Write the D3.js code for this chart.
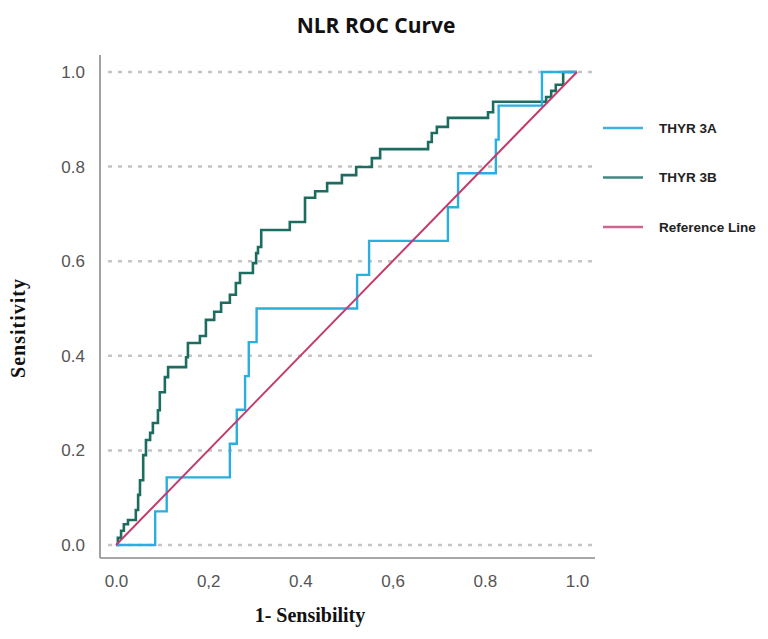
<!DOCTYPE html>
<html>
<head>
<meta charset="utf-8">
<script src="https://cdn.jsdelivr.net/npm/d3@7"></script>
<style>
  html, body { margin: 0; padding: 0; background: #fff; }
  svg { display: block; }
</style>
</head>
<body>
<svg id="chart" width="768" height="639"></svg>
<script>
// ---- data ----
const tickValues = [0, 0.2, 0.4, 0.6, 0.8, 1.0];
const xTickLabels = ["0.0", "0,2", "0.4", "0,6", "0.8", "1.0"];
const yTickLabels = ["0.0", "0.2", "0.4", "0.6", "0.8", "1.0"];

const seriesNames = ["THYR 3A", "THYR 3B", "Reference Line"];

// THYR 3A (staircase corners: step right, then up)
const thyr3aFpr = [0, 0.085, 0.110, 0.247, 0.262, 0.280, 0.288, 0.305, 0.523, 0.549, 0.720, 0.742, 0.824, 0.830, 0.924, 1.0];
const thyr3aTpr = [0, 0.071, 0.143, 0.214, 0.286, 0.357, 0.429, 0.500, 0.571, 0.643, 0.714, 0.786, 0.857, 0.929, 1.000, 1.0];

// THYR 3B
const thyr3bFpr = [0, 0.004, 0.011, 0.017, 0.026, 0.043, 0.048, 0.052, 0.059, 0.065, 0.074, 0.080, 0.091, 0.095, 0.106, 0.113,
  0.152, 0.156, 0.182, 0.195, 0.213, 0.228, 0.247, 0.260, 0.269, 0.297, 0.304, 0.308, 0.315, 0.377, 0.410, 0.432,
  0.458, 0.490, 0.521, 0.555, 0.573, 0.677, 0.685, 0.696, 0.720, 0.807, 0.818, 0.933, 0.944, 0.954, 0.970, 1.0];
const thyr3bTpr = [0, 0.015, 0.030, 0.044, 0.053, 0.074, 0.106, 0.137, 0.190, 0.222, 0.237, 0.258, 0.285, 0.323, 0.355, 0.376,
  0.397, 0.427, 0.442, 0.476, 0.493, 0.512, 0.529, 0.554, 0.575, 0.596, 0.617, 0.630, 0.666, 0.683, 0.734, 0.748,
  0.765, 0.782, 0.799, 0.818, 0.837, 0.852, 0.871, 0.884, 0.903, 0.915, 0.937, 0.947, 0.960, 0.973, 1.000, 1.0];

const referenceFpr = [0, 1];
const referenceTpr = [0, 1];

// ---- styles ----
const colA = "#2aaee0";
const colB = "#1c6c60";
const colRef = "#c23d6d";

const svg = d3.select("#chart");

const x = d3.scaleLinear().domain([0, 1]).range([116, 577]);
const y = d3.scaleLinear().domain([0, 1]).range([545, 72]);

// title
svg.append("text")
  .attr("x", 376).attr("y", 33)
  .attr("text-anchor", "middle")
  .style("font-family", "'Open Sans', sans-serif")
  .style("font-weight", "bold")
  .style("font-size", "21px")
  .attr("fill", "#111")
  .text("NLR ROC Curve");

// gridlines
svg.append("g").selectAll("line").data(tickValues).join("line")
  .attr("x1", 108).attr("x2", 595)
  .attr("y1", d => y(d)).attr("y2", d => y(d))
  .attr("stroke", "#c4c4c4")
  .attr("stroke-width", 2.5)
  .attr("stroke-dasharray", "4,6");

// axes lines
svg.append("line").attr("x1", 100).attr("x2", 100).attr("y1", 55).attr("y2", 558)
  .attr("stroke", "#8a8a8a").attr("stroke-width", 1.6);
svg.append("line").attr("x1", 100).attr("x2", 595).attr("y1", 558).attr("y2", 558)
  .attr("stroke", "#8a8a8a").attr("stroke-width", 1.6);

// x tick labels via axis
const xAxis = d3.axisBottom(x).tickValues(tickValues).tickSize(0)
  .tickFormat((d, i) => xTickLabels[i]);
const gx = svg.append("g").attr("transform", "translate(0,572)").call(xAxis);
gx.select(".domain").remove();
gx.selectAll("text")
  .attr("dy", "0.71em")
  .style("font-family", "'Liberation Sans', Arial, sans-serif")
  .style("font-size", "17px")
  .attr("fill", "#555");

// y tick labels via axis
const yAxis = d3.axisLeft(y).tickValues(tickValues).tickSize(0)
  .tickFormat((d, i) => yTickLabels[i]);
const gy = svg.append("g").attr("transform", "translate(85,0)").call(yAxis);
gy.select(".domain").remove();
gy.selectAll("text")
  .attr("x", 0)
  .style("font-family", "'Liberation Sans', Arial, sans-serif")
  .style("font-size", "17px")
  .attr("fill", "#555");

// axis titles
svg.append("text")
  .attr("x", 310).attr("y", 622)
  .attr("text-anchor", "middle")
  .style("font-family", "'Liberation Serif', 'Times New Roman', serif")
  .style("font-weight", "bold")
  .style("font-size", "20px")
  .attr("fill", "#111")
  .text("1- Sensibility");

svg.append("text")
  .attr("transform", "translate(25,328) rotate(-90)")
  .attr("text-anchor", "middle")
  .style("font-family", "'Liberation Serif', 'Times New Roman', serif")
  .style("font-weight", "bold")
  .style("font-size", "20px")
  .style("letter-spacing", "1px")
  .attr("fill", "#111")
  .text("Sensitivity");

// curves
const stepLine = d3.line().x(d => x(d[0])).y(d => y(d[1])).curve(d3.curveStepAfter);
const straight = d3.line().x(d => x(d[0])).y(d => y(d[1]));

const dataB = thyr3bFpr.map((v, i) => [v, thyr3bTpr[i]]);
const dataA = thyr3aFpr.map((v, i) => [v, thyr3aTpr[i]]);
const dataRef = referenceFpr.map((v, i) => [v, referenceTpr[i]]);

svg.append("path").datum(dataB).attr("d", stepLine)
  .attr("fill", "none").attr("stroke", colB).attr("stroke-width", 2.6);
svg.append("path").datum(dataA).attr("d", stepLine)
  .attr("fill", "none").attr("stroke", colA).attr("stroke-width", 2.4);
svg.append("path").datum(dataRef).attr("d", straight)
  .attr("fill", "none").attr("stroke", colRef).attr("stroke-width", 2);

// legend
const legendColors = ["#3fb0de", "#3f8a80", "#cf6592"];
const legendY = d3.scalePoint().domain(seriesNames).range([128, 227]);
const lg = svg.append("g");
lg.selectAll("line").data(seriesNames).join("line")
  .attr("x1", 603).attr("x2", 643)
  .attr("y1", d => legendY(d)).attr("y2", d => legendY(d))
  .attr("stroke", (d, i) => legendColors[i])
  .attr("stroke-width", 2.6);
lg.selectAll("text").data(seriesNames).join("text")
  .attr("x", 659)
  .attr("y", d => legendY(d))
  .attr("dy", "0.35em")
  .style("font-family", "'Liberation Sans', Arial, sans-serif")
  .style("font-weight", "bold")
  .style("font-size", "13.5px")
  .attr("fill", "#222")
  .text(d => d);
</script>
</body>
</html>
